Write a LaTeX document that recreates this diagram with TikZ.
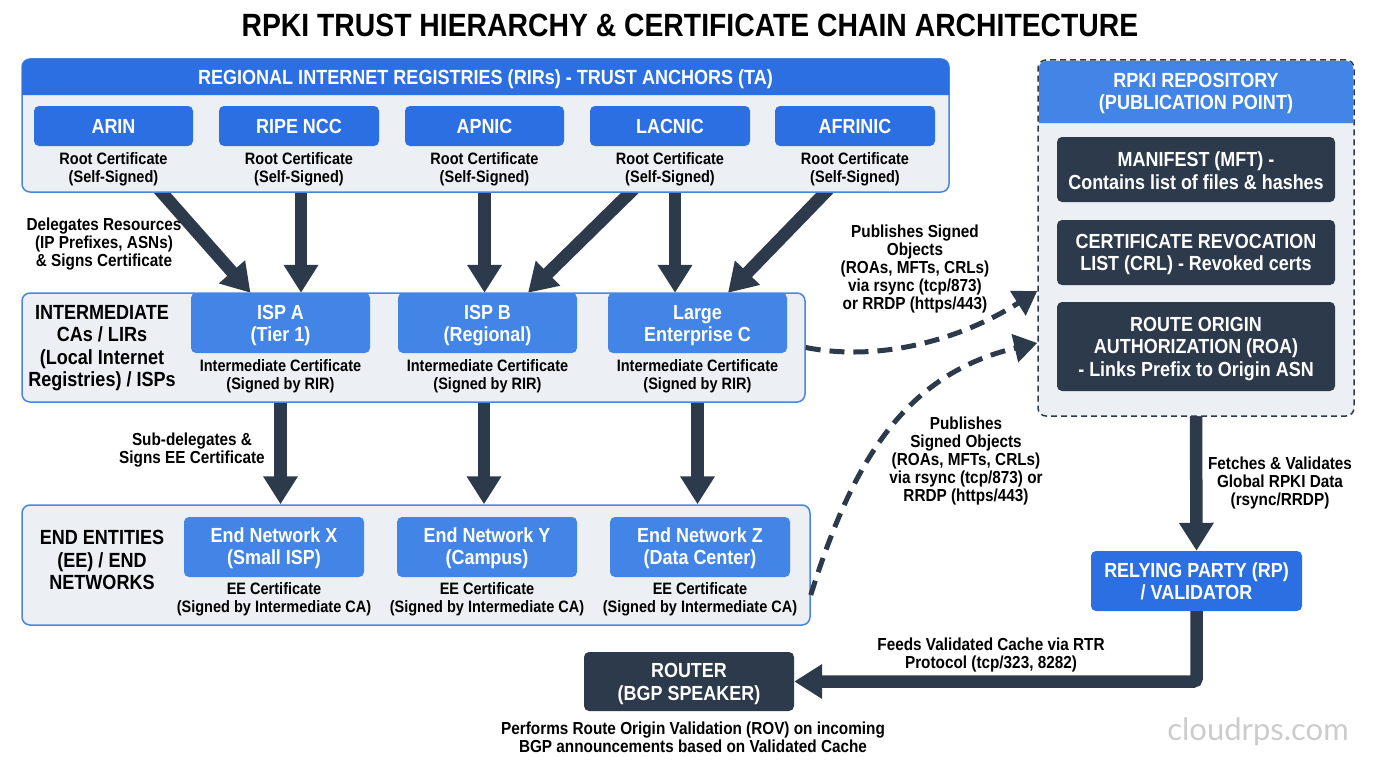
\documentclass[tikz,border=0pt]{standalone}
\usepackage{fontspec}
\setmainfont[FakeStretch=0.88]{Liberation Sans}
\newfontfamily\markfont{Lato}
\usetikzlibrary{arrows.meta,backgrounds}

\definecolor{bluetop}{HTML}{2B6FE3}
\definecolor{bluemid}{HTML}{4285E6}
\definecolor{darkbox}{HTML}{2C3A4B}
\definecolor{panelbg}{HTML}{ECEFF4}
\definecolor{panelline}{HTML}{4A86DC}

\newcommand{\lowr}[1]{\rule{0pt}{#1}}

\tikzset{
  panel/.style={draw=panelline,fill=panelbg,line width=1.5pt,rounded corners=8pt,inner sep=0pt},
  blue1/.style={fill=bluetop,rounded corners=5pt,text=white,align=center,inner sep=0pt,font=\fontsize{20.4}{22.3}\selectfont\bfseries},
  blue2/.style={blue1,fill=bluemid},
  dark1/.style={blue1,fill=darkbox,minimum width=278pt},
  cert/.style={align=center,inner sep=0pt,font=\fontsize{16.5}{17.6}\selectfont\bfseries},
  note/.style={cert,font=\fontsize{17.4}{18}\selectfont\bfseries},
  tier/.style={align=center,inner sep=0pt,font=\fontsize{20.5}{22.3}\selectfont\bfseries},
  flow/.style={draw=darkbox,line width=12.5pt,shorten <=-14pt,-{Triangle[width=33pt,length=28pt]}},
  pub/.style={draw=darkbox,line width=5pt,dash pattern=on 15pt off 9pt,-{Triangle[width=28pt,length=23pt]}},
}

\begin{document}
\begin{tikzpicture}[x=1pt,y=-1pt]
\useasboundingbox (0,0) rectangle (1376,768);

\node[inner sep=0pt,font=\fontsize{32.2}{35}\selectfont\bfseries] (title) at (690,25.5) {RPKI TRUST HIERARCHY \& CERTIFICATE CHAIN ARCHITECTURE};

% top tier
\node[panel,minimum width=927pt,minimum height=133pt] (rir) at (485.5,125.5) {};
\fill[bluetop] (22,95) {[rounded corners=8pt] -- (22,59) -- (949,59)} -- (949,95) -- cycle;
\node[tier,text=white] (rirhead) at (485.5,79) {REGIONAL INTERNET REGISTRIES (RIRs) - TRUST ANCHORS (TA)};

\node[blue1,minimum width=159pt,minimum height=40pt] (arin) at (113.5,126) {ARIN};
\node[blue1,minimum width=160pt,minimum height=40pt] (ripe) at (299,126) {RIPE NCC};
\node[blue1,minimum width=159pt,minimum height=40pt] (apnic) at (484.5,126) {APNIC};
\node[blue1,minimum width=160pt,minimum height=40pt] (lacnic) at (670,126) {LACNIC};
\node[blue1,minimum width=160pt,minimum height=40pt] (afrinic) at (855,126) {AFRINIC};

\node[cert] (arincert) at (113.5,169) {Root Certificate\\(Self-Signed)};
\node[cert] (ripecert) at (299,169) {Root Certificate\\(Self-Signed)};
\node[cert] (apniccert) at (484.5,169) {Root Certificate\\(Self-Signed)};
\node[cert] (lacniccert) at (670,169) {Root Certificate\\(Self-Signed)};
\node[cert] (afriniccert) at (855,169) {Root Certificate\\(Self-Signed)};

% middle tier
\node[panel,minimum width=783pt,minimum height=109pt] (inter) at (413.5,347.5) {};
\node[tier] (intertext) at (102,348) {INTERMEDIATE\\CAs / LIRs\\(Local Internet\\Registries) / ISPs};

\node[blue2,minimum width=179pt,minimum height=60pt] (ispa) at (280.5,323) {\lowr{19.5pt}ISP A\\(Tier 1)};
\node[blue2,minimum width=179pt,minimum height=60pt] (ispb) at (487.5,323) {\lowr{19.5pt}ISP B\\(Regional)};
\node[blue2,minimum width=179pt,minimum height=60pt] (ispc) at (697.5,323) {\lowr{19.5pt}Large\\Enterprise C};

\node[cert] (ispacert) at (280.5,376) {Intermediate Certificate\\(Signed by RIR)};
\node[cert] (ispbcert) at (487.5,376) {Intermediate Certificate\\(Signed by RIR)};
\node[cert] (ispccert) at (697.5,376) {Intermediate Certificate\\(Signed by RIR)};

% bottom tier
\node[panel,minimum width=788pt,minimum height=120pt] (endp) at (416,565) {};
\node[tier] (endtext) at (102,560) {END ENTITIES\\(EE) / END\\NETWORKS};

\node[blue2,minimum width=180pt,minimum height=60pt] (endx) at (274,547) {\lowr{17pt}End Network X\\(Small ISP)};
\node[blue2,minimum width=180pt,minimum height=60pt] (endy) at (487,547) {\lowr{17pt}End Network Y\\(Campus)};
\node[blue2,minimum width=180pt,minimum height=60pt] (endz) at (700,547) {\lowr{17pt}End Network Z\\(Data Center)};

\node[cert] (endxcert) at (274,599.5) {EE Certificate\\(Signed by Intermediate CA)};
\node[cert] (endycert) at (487,599.5) {EE Certificate\\(Signed by Intermediate CA)};
\node[cert] (endzcert) at (700,599.5) {EE Certificate\\(Signed by Intermediate CA)};

% repository
\node[panel,draw=darkbox,dash pattern=on 6pt off 4pt,minimum width=316pt,minimum height=356pt] (repo) at (1196,238) {};
\fill[bluemid] (1039,123) {[rounded corners=7pt] -- (1039,61) -- (1353,61)} -- (1353,123) -- cycle;
\node[tier,text=white] (repohead) at (1196,93.5) {RPKI REPOSITORY\\(PUBLICATION POINT)};

\node[dark1,minimum height=65pt] (mft) at (1196,169.5) {\lowr{17pt}MANIFEST (MFT) -\\Contains list of files \& hashes};
\node[dark1,minimum height=65pt] (crl) at (1196,252.5) {\lowr{18.5pt}CERTIFICATE REVOCATION\\LIST (CRL) - Revoked certs};
\node[dark1,minimum height=89pt] (roa) at (1196,346.5) {\lowr{19pt}ROUTE ORIGIN\\AUTHORIZATION (ROA)\\- Links Prefix to Origin ASN};

% validator and router
\node[blue1,minimum width=211pt,minimum height=60pt] (rp) at (1196.5,581) {RELYING PARTY (RP)\\/ VALIDATOR};
\node[blue1,fill=darkbox,minimum width=210pt,minimum height=59pt] (router) at (689,681.5) {\lowr{19pt}ROUTER\\(BGP SPEAKER)};

% arrows
\begin{scope}[on background layer]
\draw[flow] ([xshift=48.5pt]arin.south |- rir.south) to ([xshift=-30pt]ispa.north);
\draw[flow] ([xshift=2pt]ripe.south |- rir.south) to ([xshift=20.5pt]ispa.north);
\draw[flow] (apnic.south |- rir.south) to ([xshift=-3pt]ispb.north);
\draw[flow] ([xshift=-40pt]lacnic.south |- rir.south) to ([xshift=40.5pt]ispb.north);
\draw[flow] ([xshift=5pt]lacnic.south |- rir.south) to ([xshift=-22.5pt]ispc.north);
\draw[flow] ([xshift=-30pt]afrinic.south |- rir.south) to ([xshift=30.5pt]ispc.north);

\draw[flow] (ispa.south |- inter.south) to (ispa.south |- endp.north);
\draw[flow] ([xshift=-3.5pt]ispb.south |- inter.south) to ([xshift=-3.5pt]ispb.south |- endp.north);
\draw[flow] (ispc.south |- inter.south) to (ispc.south |- endp.north);

\draw[flow] (repo.south) to (rp.north);
\draw[flow,rounded corners=3pt] (rp.south) |- (router.east);
\end{scope}

\draw[pub] (inter.east) .. controls (880,362) and (960,340) .. ([yshift=-53pt]repo.west);
\draw[pub] ([yshift=-30pt]endp.east) .. controls (850,470) and (900,375) .. ([yshift=-105pt]repo.west);

% labels
\node[note] (delegates) at (104,244.5) {Delegates Resources\\(IP Prefixes, ASNs)\\\& Signs Certificate};
\node[note] (subdel) at (192,450.5) {Sub-delegates \&\\Signs EE Certificate};
\node[note] (pubone) at (915,268.5) {Publishes Signed\\Objects\\(ROAs, MFTs, CRLs)\\via rsync (tcp/873)\\or RRDP (https/443)};
\node[note] (pubtwo) at (966,460.5) {Publishes\\Signed Objects\\(ROAs, MFTs, CRLs)\\via rsync (tcp/873) or\\RRDP (https/443)};
\node[note] (fetches) at (1280,482.5) {Fetches \& Validates\\Global RPKI Data\\(rsync/RRDP)};
\node[note] (feeds) at (991,654.5) {Feeds Validated Cache via RTR\\Protocol (tcp/323, 8282)};
\node[note] (performs) at (693,737.5) {Performs Route Origin Validation (ROV) on incoming\\BGP announcements based on Validated Cache};

\node[inner sep=0pt,text=black!20,font=\fontsize{31}{34}\selectfont\markfont] (mark) at (1258,732) {cloudrps.com};
\end{tikzpicture}
\end{document}
